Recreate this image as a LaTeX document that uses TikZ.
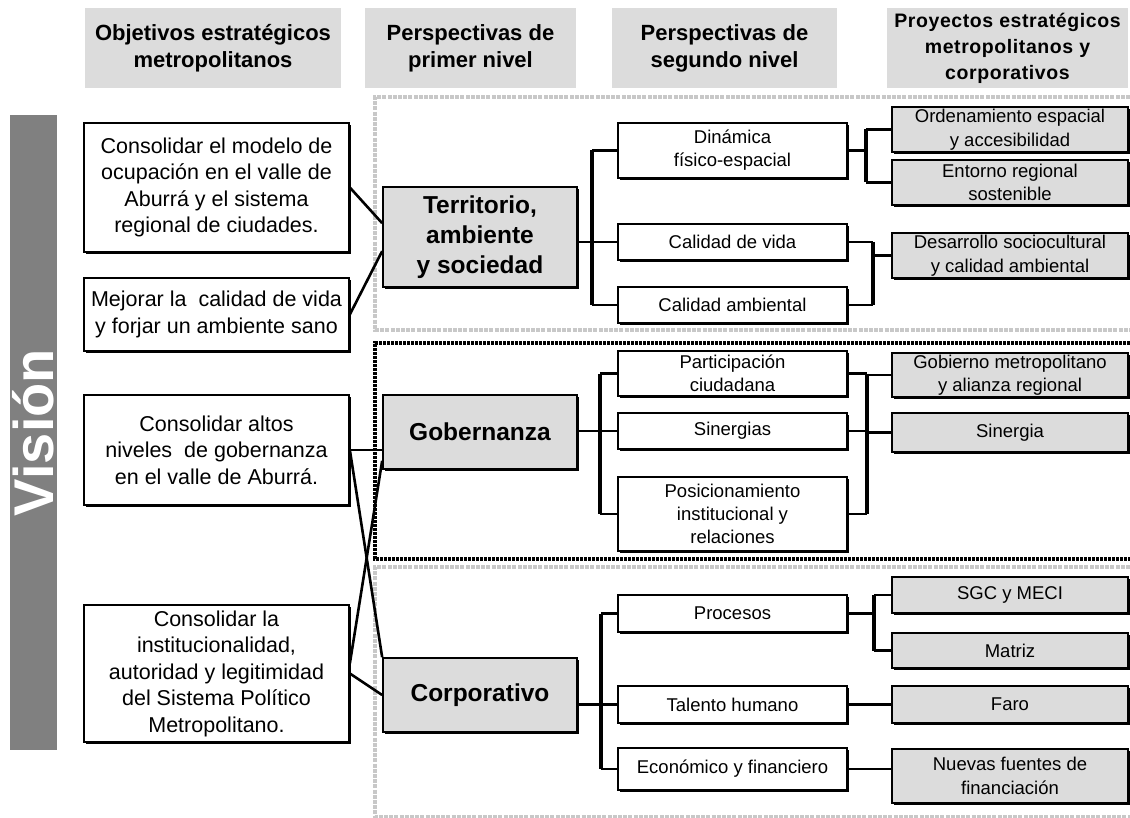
\documentclass[tikz,border=0pt]{standalone}
\usepackage{fontspec}
\setmainfont{Liberation Sans}
\newfontfamily\spacedsans[LetterSpace=3]{Liberation Sans}
\usetikzlibrary{shadows,calc}

\definecolor{boxgray}{HTML}{DCDCDC}
\definecolor{bargray}{HTML}{808080}
\definecolor{dotgray}{HTML}{C8C8C8}

\begin{document}
\begin{tikzpicture}[
        x=1pt, y=-1pt,
        header/.style={fill=boxgray, inner sep=0pt, align=center, minimum height=80pt,
            font=\fontsize{22}{27}\selectfont\bfseries},
        shadowed/.style={drop shadow={shadow xshift=1.6pt, shadow yshift=-1.6pt, fill=black, opacity=1}},
        objbox/.style={draw, fill=white, line width=1.7pt, inner sep=0pt, minimum width=265pt,
            align=center, shadowed, font=\fontsize{21.5}{26.5}\selectfont},
        firstbox/.style={draw, fill=boxgray, line width=1.7pt, inner sep=0pt, minimum width=194pt,
            align=center, shadowed, font=\fontsize{24.5}{30}\selectfont\bfseries},
        secondbox/.style={draw, fill=white, line width=1.7pt, inner sep=0pt, minimum width=229pt,
            align=center, shadowed, font=\fontsize{18.5}{23}\selectfont},
        projbox/.style={draw, fill=boxgray, line width=1.7pt, inner sep=0pt, minimum width=236pt,
            align=center, shadowed, font=\fontsize{18.5}{23.5}\selectfont},
        link/.style={line width=2.5pt},
        trunk/.style={line width=3.5pt},
        cross/.style={line width=2.6pt},
        lightdot/.style={draw=dotgray, line width=3.2pt, dash pattern=on 4pt off 1.2pt},
        darkdot/.style={draw=black, line width=3.2pt, dash pattern=on 3pt off 1pt},
    ]
    \useasboundingbox (0,0) rectangle (1130,818);

    % dotted frames of the three perspectives
    \draw[lightdot] (1130,97) -- (375,97) -- (375,330) -- (1130,330);
    \draw[darkdot] (1130,343) -- (375,343) -- (375,559) -- (1130,559);
    \draw[lightdot] (1130,567) -- (375,567) -- (375,817) -- (1130,817);

    % vision bar
    \node[fill=bargray, rotate=90, minimum width=635pt, minimum height=47pt, inner sep=0pt,
        text=white, font=\fontsize{56}{56}\selectfont\bfseries] (vision) at (33.5,432.5) {Visión};

    % column headers
    \node[header, minimum width=256pt] (head1) at (213,48) {Objetivos estratégicos\\metropolitanos};
    \node[header, minimum width=211pt] (head2) at (470.5,48) {Perspectivas de\\primer nivel};
    \node[header, minimum width=225pt] (head3) at (724.5,48) {Perspectivas de\\segundo nivel};
    \node[header, minimum width=241pt, font=\fontsize{19.5}{26}\spacedsans\bfseries] (head4) at (1007.5,48)
        {Proyectos estratégicos\\metropolitanos y\\corporativos};

    % strategic objectives
    \node[objbox, minimum height=129pt] (obj1) at (216.5,187.5)
        {Consolidar el modelo de\\ocupación en el valle de\\Aburrá y el sistema\\regional de ciudades.};
    \node[objbox, minimum height=73pt] (obj2) at (216.5,314.5)
        {Mejorar la\ \ calidad de vida\\y forjar un ambiente sano};
    \node[objbox, minimum height=110pt] (obj3) at (216.5,450)
        {Consolidar altos\\niveles\ \ de gobernanza\\en el valle de Aburrá.};
    \node[objbox, minimum height=137pt] (obj4) at (216.5,673.5)
        {Consolidar la\\institucionalidad,\\autoridad y legitimidad\\del Sistema Político\\Metropolitano.};

    % first level
    \node[firstbox, minimum height=100pt] (terr) at (480,237) {Territorio,\\ambiente\\y sociedad};
    \node[firstbox, minimum height=74pt] (gob) at (480,432) {Gobernanza};
    \node[firstbox, minimum height=74pt] (corp) at (480,695) {Corporativo};

    % second level
    \node[secondbox, minimum height=55pt] (din) at (732.5,150.5) {Dinámica\\físico-espacial};
    \node[secondbox, minimum height=36pt] (cvida) at (732.5,242) {Calidad de vida};
    \node[secondbox, minimum height=36pt] (camb) at (732.5,305) {Calidad ambiental};
    \node[secondbox, minimum height=45pt] (part) at (732.5,373.5) {Participación\\ciudadana};
    \node[secondbox, minimum height=36pt] (siner) at (732.5,431) {Sinergias};
    \node[secondbox, minimum height=74pt] (posi) at (732.5,514) {Posicionamiento\\institucional y\\relaciones};
    \node[secondbox, minimum height=37pt] (proc) at (732.5,613.5) {Procesos};
    \node[secondbox, minimum height=37pt] (tal) at (732.5,704.5) {Talento humano};
    \node[secondbox, minimum height=42pt] (eco) at (732.5,769) {Económico y financiero};

    % strategic projects
    \node[projbox, minimum height=45pt] (orden) at (1010,129.5) {Ordenamiento espacial\\y accesibilidad};
    \node[projbox, minimum height=45pt] (entor) at (1010,182.5) {Entorno regional\\sostenible};
    \node[projbox, minimum height=45pt] (desa) at (1010,255.5) {Desarrollo sociocultural\\y calidad ambiental};
    \node[projbox, minimum height=44pt] (gmet) at (1010,375) {Gobierno metropolitano\\y alianza regional};
    \node[projbox, minimum height=39pt] (sinerg) at (1010,432.5) {Sinergia};
    \node[projbox, minimum height=36pt] (sgc) at (1010,595) {SGC y MECI};
    \node[projbox, minimum height=35pt] (matriz) at (1010,650.5) {Matriz};
    \node[projbox, minimum height=37pt] (faro) at (1010,704.5) {Faro};
    \node[projbox, minimum height=54pt] (nuevas) at (1010,776) {Nuevas fuentes de\\financiación};

    % objectives to first level
    \draw[cross] (obj1.east) -- ($(terr.north west)+(0,37)$);
    \draw[cross] (obj2.east) -- ($(terr.north west)+(0,65)$);
    \draw[link] (obj3.east) -- (obj3.east -| gob.west);
    \draw[cross] (obj3.east) -- (corp.north west);
    \draw[cross] ($(gob.south west)+(0,-9)$) -- ($(obj4.east)+(0,-10)$);
    \draw[cross] (obj4.east) -- (corp.west);

    % first level to second level
    \draw[link] (terr.east |- cvida.west) -- (cvida.west);
    \draw[trunk] ([xshift=-25pt]din.west) -- ([xshift=-25pt]camb.west);
    \draw[link] ([xshift=-25pt]din.west) -- (din.west);
    \draw[link] ([xshift=-25pt]camb.west) -- (camb.west);

    \draw[link] (gob.east |- siner.west) -- (siner.west);
    \draw[trunk] ([xshift=-17pt]part.west) -- ([xshift=-17pt]posi.west);
    \draw[link] ([xshift=-17pt]part.west) -- (part.west);
    \draw[link] ([xshift=-17pt]posi.west) -- (posi.west);

    \draw[link] (corp.east |- tal.west) -- (tal.west);
    \draw[trunk] ([xshift=-16pt]proc.west) -- ([xshift=-16pt]eco.west);
    \draw[link] ([xshift=-16pt]proc.west) -- (proc.west);
    \draw[link] ([xshift=-16pt]eco.west) -- (eco.west);

    % second level to projects
    \coordinate (dinj) at ([xshift=18pt]din.east);
    \draw[link] (din.east) -- (dinj);
    \draw[trunk] (dinj |- orden.west) -- (dinj |- entor.west);
    \draw[link] (dinj |- orden.west) -- (orden.west);
    \draw[link] (dinj |- entor.west) -- (entor.west);

    \coordinate (calj) at ([xshift=25pt]cvida.east);
    \draw[link] (cvida.east) -- (calj);
    \draw[trunk] (calj) -- (calj |- camb.east);
    \draw[link] (calj |- camb.east) -- (camb.east);
    \draw[link] (calj |- desa.west) -- (desa.west);

    \coordinate (gobj) at ([xshift=19pt]part.east);
    \draw[trunk] (gobj) -- (gobj |- posi.east);
    \draw[link] (part.east) -- (gobj);
    \draw[link] (siner.east) -- (gobj |- siner.east);
    \draw[link] (posi.east) -- (gobj |- posi.east);
    \draw[link] (gobj |- gmet.west) -- (gmet.west);
    \draw[link] (gobj |- sinerg.west) -- (sinerg.west);

    \coordinate (procj) at ([xshift=26pt]proc.east);
    \draw[link] (proc.east) -- (procj);
    \draw[trunk] (procj |- sgc.west) -- (procj |- matriz.west);
    \draw[link] (procj |- sgc.west) -- (sgc.west);
    \draw[link] (procj |- matriz.west) -- (matriz.west);

    \draw[link] (tal.east) -- (faro.west);
    \draw[link] (eco.east) -- (eco.east -| nuevas.west);

\end{tikzpicture}
\end{document}
